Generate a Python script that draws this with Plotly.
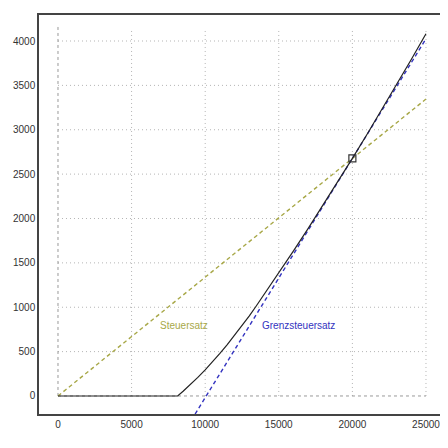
import plotly.graph_objects as go

# Einkommen (x) und Steuer (y)
einkommen = [0, 8130, 8500, 9000, 9500, 10000, 10500, 11000, 11500, 12000, 12500,
             13000, 13469, 14000, 15000, 16000, 17000, 18000, 19000, 20000,
             21000, 22000, 23000, 24000, 25000]
steuer = [0, 0, 53, 129, 209, 294, 384, 479, 578, 682, 790,
          903, 1014, 1142, 1386, 1635, 1889, 2147, 2410, 2677,
          2949, 3225, 3506, 3792, 4082]

# Grenzsteuersatz (Tangente bei 20000)
grenz_x = [9317, 25000]
grenz_y = [-203, 4025]

# Steuersatz (Gerade durch Ursprung)
satz_x = [0, 25000]
satz_y = [0, 3346]

punkt_x = [20000]
punkt_y = [2677]

x_ticks = [0, 5000, 10000, 15000, 20000, 25000]
y_ticks = [0, 500, 1000, 1500, 2000, 2500, 3000, 3500, 4000]

fig = go.Figure()

shapes = []
for xv in x_ticks[1:]:
    shapes.append(dict(type="line", x0=xv, x1=xv, y0=0, y1=4140, layer="below",
                       line=dict(color="#b4b4b4", width=1, dash="1px,3px")))
for yv in y_ticks[1:]:
    shapes.append(dict(type="line", x0=0, x1=25000, y0=yv, y1=yv, layer="below",
                       line=dict(color="#b4b4b4", width=1, dash="1px,3px")))
shapes.append(dict(type="line", x0=0, x1=0, y0=0, y1=4170, layer="below",
                   line=dict(color="#999999", width=1, dash="3px,3px")))
shapes.append(dict(type="line", x0=0, x1=25000, y0=0, y1=0, layer="below",
                   line=dict(color="#999999", width=1, dash="3px,3px")))

fig.add_trace(go.Scatter(x=satz_x, y=satz_y, mode="lines",
                         line=dict(color="#a8a848", width=1.4, dash="4px,3px")))
fig.add_trace(go.Scatter(x=grenz_x, y=grenz_y, mode="lines",
                         line=dict(color="#3333c0", width=1.4, dash="4px,3px")))
fig.add_trace(go.Scatter(x=einkommen, y=steuer, mode="lines",
                         line=dict(color="#222222", width=1.2)))
fig.add_trace(go.Scatter(x=punkt_x, y=punkt_y, mode="markers",
                         marker=dict(symbol="square-open", size=7,
                                     color="#333333", line=dict(width=1.2))))

fig.add_annotation(x=8560, y=790, text="Steuersatz", showarrow=False,
                   font=dict(color="#a8a848", size=10, family="Arial"))
fig.add_annotation(x=16370, y=790, text="Grenzsteuersatz", showarrow=False,
                   font=dict(color="#3333c0", size=10, family="Arial"))

# page body has an 8px margin, so the figure is 440 wide/high
fig.update_layout(
    width=440, height=440,
    margin=dict(l=31, r=2, t=7, b=34, autoexpand=False),
    paper_bgcolor="white", plot_bgcolor="white",
    showlegend=False,
    shapes=shapes,
    font=dict(family="Arial", size=10, color="#333333"),
    xaxis=dict(range=[-1290, 26360], tickvals=x_ticks, tickformat="d",
               showgrid=False, automargin=False,
               zeroline=False, showline=True, mirror=True,
               linecolor="#444444", linewidth=1.5, ticks=""),
    yaxis=dict(range=[-203, 4293], tickvals=y_ticks, tickformat="d",
               showgrid=False, automargin=False,
               zeroline=False, showline=True, mirror=True,
               linecolor="#444444", linewidth=1.5, ticks=""),
)

fig.write_html("out.html")
